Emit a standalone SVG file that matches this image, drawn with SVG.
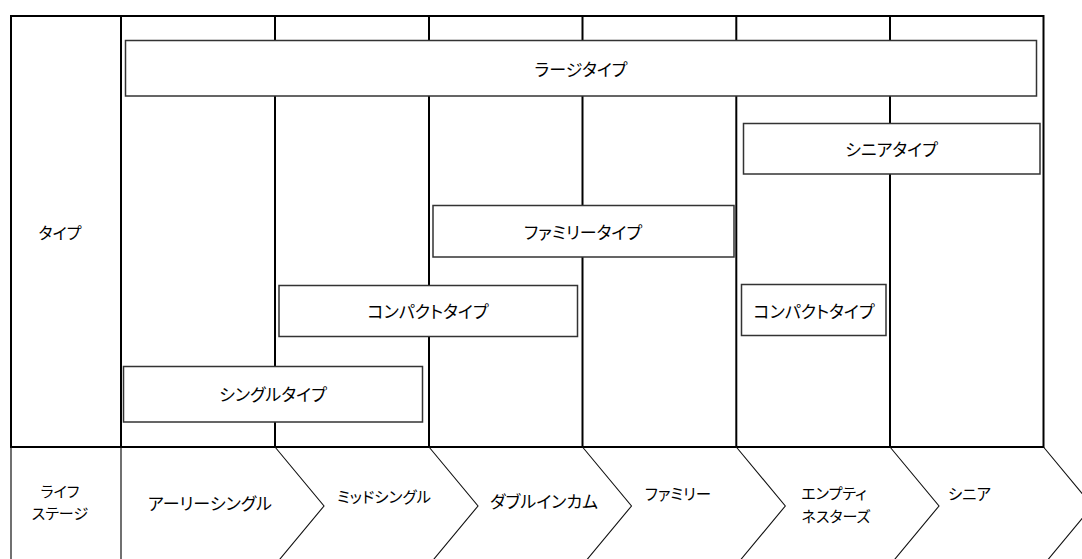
<svg xmlns="http://www.w3.org/2000/svg" width="1082" height="559" viewBox="0 0 1082 559">
<style>
text{font-family:"Noto Sans CJK JP","Noto Sans",sans-serif;fill:#000;text-anchor:middle;dominant-baseline:central;font-feature-settings:"palt";}
.t16{font-size:17px}
.t15{font-size:16px}
.t14{font-size:15.5px}
.t13{font-size:15px}
.grid{stroke:#000;stroke-width:2;fill:none}
.thin{stroke:#111;stroke-width:1.2;fill:none}
.box{fill:#fff;stroke:#333;stroke-width:1.5}
.chev{fill:none;stroke:#111;stroke-width:1.1}
</style>
<rect width="1082" height="559" fill="#fff"/>
<g id="grid">
  <rect class="grid" x="11" y="16" width="1032.5" height="431"/>
  <line class="grid" x1="121" y1="16" x2="121" y2="447"/>
  <line class="grid" x1="275" y1="16" x2="275" y2="447"/>
  <line class="grid" x1="429" y1="16" x2="429" y2="447"/>
  <line class="grid" x1="582.5" y1="16" x2="582.5" y2="447"/>
  <line class="grid" x1="736.3" y1="16" x2="736.3" y2="447"/>
  <line class="grid" x1="890" y1="16" x2="890" y2="447"/>
  <line class="thin" x1="11" y1="447" x2="11" y2="559"/>
  <line class="thin" x1="121" y1="447" x2="121" y2="559"/>
</g>
<g id="label-type"><text class="t15" x="60" y="232">タイプ</text></g>
<g id="label-lifestage"><text class="t13" x="60" y="490">ライフ</text><text class="t13" x="60" y="512">ステージ</text></g>
<g id="box-large"><rect class="box" x="125.5" y="40.5" width="911" height="55.5"/><text class="t16" x="581" y="68">ラージタイプ</text></g>
<g id="box-senior"><rect class="box" x="743.5" y="123.5" width="296.5" height="50.5"/><text class="t16" x="891.5" y="148.5">シニアタイプ</text></g>
<g id="box-family"><rect class="box" x="433" y="205.5" width="301" height="51.5"/><text class="t16" x="583" y="231">ファミリータイプ</text></g>
<g id="box-compact1"><rect class="box" x="279" y="285.5" width="298.5" height="51"/><text class="t16" x="428" y="310">コンパクトタイプ</text></g>
<g id="box-compact2"><rect class="box" x="741.5" y="284.5" width="144.5" height="51"/><text class="t16" x="814" y="310">コンパクトタイプ</text></g>
<g id="box-single"><rect class="box" x="123.5" y="366.5" width="299" height="55.5"/><text class="t16" x="273" y="393">シングルタイプ</text></g>
<g id="connectors">
  <polyline class="chev" points="275,447 324,506 275,565"/>
  <polyline class="chev" points="429,447 478,506 429,565"/>
  <polyline class="chev" points="582.5,447 631.5,506 582.5,565"/>
  <polyline class="chev" points="736.3,447 785.3,506 736.3,565"/>
  <polyline class="chev" points="890,447 939,506 890,565"/>
  <polyline class="chev" points="1043.5,447 1092.5,506 1043.5,565"/>
</g>
<g id="stage-early"><text class="t16" x="210" y="502">アーリーシングル</text></g>
<g id="stage-mid"><text class="t14" x="384" y="496">ミッドシングル</text></g>
<g id="stage-double"><text class="t16" x="544" y="500">ダブルインカム</text></g>
<g id="stage-family"><text class="t14" x="678" y="493">ファミリー</text></g>
<g id="stage-empty"><text class="t13" x="834" y="492">エンプティ</text><text class="t13" x="836" y="515">ネスターズ</text></g>
<g id="stage-senior"><text class="t14" x="969.5" y="493">シニア</text></g>
</svg>
